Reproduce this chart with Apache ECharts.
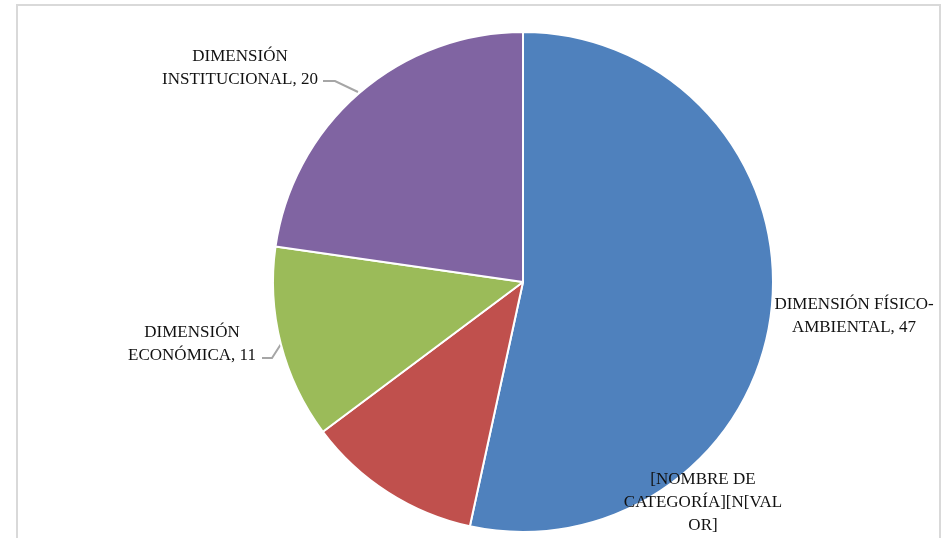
<!DOCTYPE html>
<html>
<head>
<meta charset="utf-8">
<script src="https://cdn.jsdelivr.net/npm/echarts@6/dist/echarts.min.js"></script>
<style>
  html, body { margin: 0; padding: 0; background: #fff; }
  #chart { width: 944px; height: 538px; }
</style>
</head>
<body>
<div id="chart"></div>
<script>
// datos
var categories = ["DIMENSIÓN FÍSICO-AMBIENTAL", "[NOMBRE DE CATEGORÍA]", "DIMENSIÓN ECONÓMICA", "DIMENSIÓN INSTITUCIONAL"];
var values = [47, 10, 11, 20];
var labelTexts = [
  "DIMENSIÓN FÍSICO-\nAMBIENTAL, 47",
  "[NOMBRE DE\nCATEGORÍA][N[VAL\nOR]",
  "DIMENSIÓN\nECONÓMICA, 11",
  "DIMENSIÓN\nINSTITUCIONAL, 20"
];
var colors = ["#4F81BD", "#C0504D", "#9BBB59", "#8064A2"];

var mychart = echarts.init(document.getElementById("chart"));

var data = categories.map(function (c, i) {
  return {
    name: c,
    value: values[i],
    itemStyle: { color: colors[i] },
    labelLine: { show: i >= 2 }
  };
});

// posiciones de las etiquetas y sus líneas guía (como en el original de Excel)
var labelPos = [
  { x: 854, y: 316 },
  { x: 703, y: 502.5 },
  { x: 192, y: 344.5, line: [[281, 344], [272, 358], [262, 358]] },
  { x: 240, y: 68, line: [[358, 92], [335, 81], [323, 81]] }
];

var option = {
  backgroundColor: "#fff",
  animation: false,
  graphic: [{
    type: "rect",
    shape: { x: 17, y: 5, width: 923, height: 560 },
    style: { fill: "none", stroke: "#d9d9d9", lineWidth: 2 },
    z: -1
  }],
  series: [{
    type: "pie",
    center: [523, 282],
    radius: 250,
    startAngle: 90,
    clockwise: true,
    data: data,
    itemStyle: { borderColor: "#fff", borderWidth: 2 },
    label: {
      show: true,
      position: "outside",
      formatter: function (p) { return labelTexts[p.dataIndex]; },
      fontFamily: "Liberation Serif",
      fontSize: 17,
      lineHeight: 23,
      color: "#111",
      align: "center",
      overflow: "none"
    },
    labelLine: {
      show: true,
      smooth: false,
      lineStyle: { color: "#a6a6a6", width: 2 }
    },
    labelLayout: function (params) {
      var p = labelPos[params.dataIndex];
      var r = { x: p.x, y: p.y, align: "center", verticalAlign: "middle" };
      if (p.line) r.labelLinePoints = p.line;
      return r;
    }
  }]
};

mychart.setOption(option);
</script>
</body>
</html>
